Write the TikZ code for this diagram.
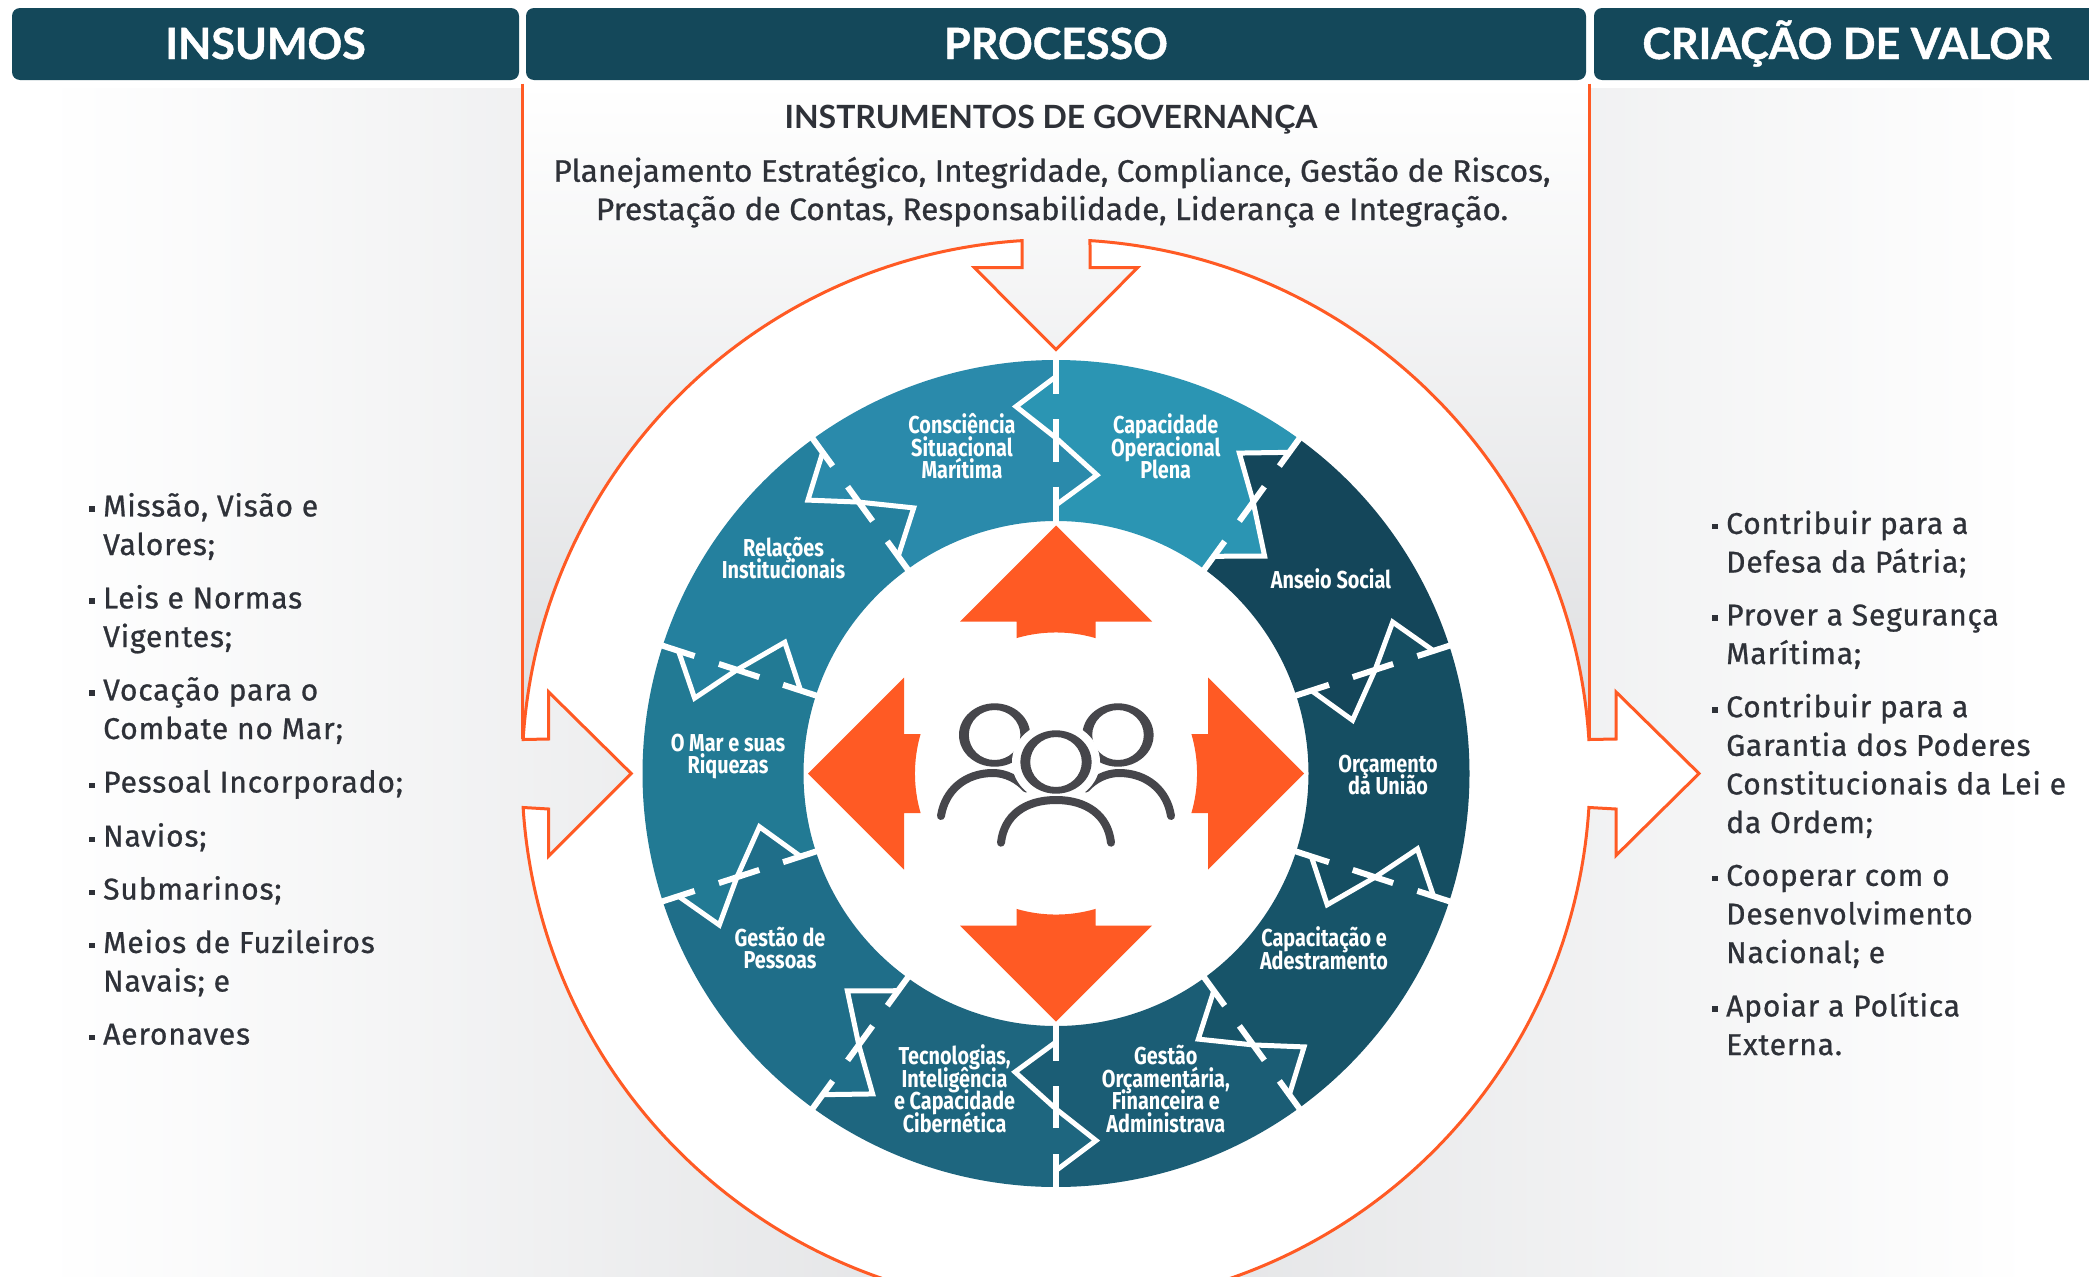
\documentclass[tikz,border=0pt]{standalone}
\usepackage{fontspec}
\setmainfont{Fira Sans}
\newfontfamily\headfont[BoldFeatures={FakeBold=1.0}]{Lato}
\newfontfamily\instrfont{Lato}
\newfontfamily\bodyfont[LetterSpace=2.8,FakeBold=0.8]{Fira Sans}
\newfontfamily\parafont[FakeStretch=1.023,FakeBold=0.8]{Fira Sans}
\newfontfamily\ringfont[FakeStretch=0.81]{Fira Sans}
\definecolor{hdrcol}{HTML}{14485A}
\definecolor{orangecol}{HTML}{FF5A24}
\definecolor{txtcol}{HTML}{2E3138}
\definecolor{iconcol}{HTML}{46464B}
\definecolor{grayA}{HTML}{E0E1E3}
\definecolor{segA}{HTML}{2B95B3}
\definecolor{segB}{HTML}{14465A}
\definecolor{segC}{HTML}{154E62}
\definecolor{segD}{HTML}{175469}
\definecolor{segE}{HTML}{1B5D75}
\definecolor{segF}{HTML}{1E667F}
\definecolor{segG}{HTML}{1F6E89}
\definecolor{segH}{HTML}{227A94}
\definecolor{segI}{HTML}{24809E}
\definecolor{segJ}{HTML}{2A8AAB}
\usetikzlibrary{positioning}
\setlength{\normallineskiplimit}{-30pt}
\setlength{\lineskiplimit}{-30pt}
\tikzset{
  hdrbox/.style={fill=hdrcol,rounded corners=8pt},
  hdrtxt/.style={text=white,font=\headfont\bfseries\fontsize{43}{50}\selectfont,anchor=base},
  listtxt/.style={text=txtcol,align=left,inner sep=0pt,anchor=base west,
    font=\bodyfont\fontsize{30}{38.6}\selectfont},
  ringtxt/.style={text=white,align=center,inner sep=0pt,anchor=base,yshift=-1.5pt,
    font=\ringfont\bfseries\fontsize{24.5}{22.5}\selectfont},
  paratxt/.style={text=txtcol,anchor=base,inner sep=0pt,font=\parafont\fontsize{31}{38}\selectfont},
  orangeline/.style={draw=orangecol,line width=3pt,line join=miter},
  bodyline/.style={draw=iconcol,line width=8pt,line cap=round},
  headring/.style={fill=iconcol,even odd rule}
}
\newcommand{\sqb}{\llap{\rule[4.5pt]{5.5pt}{5.5pt}\hspace{8.5pt}}}
\begin{document}
\begin{tikzpicture}[x=1pt,y=1pt]
  \useasboundingbox (0,0) rectangle (2089,-1277);
  \clip (0,0) rectangle (2089,-1277);
  % background panels
  \fill[white] (0,0) rectangle (2089,-1277);
  \shade[left color=white,right color=grayA] (45,-88) rectangle (1056,-1277);
  \shade[left color=grayA,right color=white] (1056,-88) rectangle (2030,-1277);
  \shade[top color=white,bottom color=grayA] (523,-83) rectangle (1590,-688);
  \fill[grayA] (523,-687) rectangle (548,-740);
  \fill[grayA] (1566,-687) rectangle (1590,-740);
  \begin{scope}[shift={(1056,-773.5)}]
    % named points of the big outline
    \coordinate (vlA) at (-533.3,690);
    \coordinate (vlB) at (-533.3,34.7);
    \coordinate (vrA) at (533.7,690);
    \coordinate (vrB) at (533.7,34.7);
    \draw[orangeline] (vlA) -- (vlB);
    \draw[orangeline] (vrA) -- (vrB);
    \path[fill=white,orangeline] (86.35:534)
      arc[start angle=86.35,delta angle=-82.7,radius=534]
      -- (560,34.5) -- (560,81.6) -- (643,0) -- (560,-82) -- (560,-35.5) -- (-3.65:534)
      arc[start angle=-3.65,delta angle=-172.7,radius=534]
      -- (-507.3,-35.5) -- (-507.3,-82.6) -- (-424.8,0) -- (-507.3,81.5) -- (-507.3,34.5) -- (176.35:534)
      arc[start angle=176.35,delta angle=-82.7,radius=534]
      -- (-34,505.8) -- (-81.6,505.8) -- (0,423.9) -- (81.6,505.8) -- (34,505.8) -- cycle;
    % zigzag points, one set per boundary
    \foreach \i in {0,...,10} {
      \begin{scope}[rotate=-36*\i]
        \coordinate (o\i) at (0,413.5);
        \coordinate (p\i) at (0,397);
        \coordinate (q\i) at (-40,367);
        \coordinate (r\i) at (0,335.5);
        \coordinate (s\i) at (41,298.5);
        \coordinate (t\i) at (0,268.5);
        \coordinate (n\i) at (0,252.5);
      \end{scope}
    }
    % segments of the ring
    \foreach \i/\j/\col in {0/1/segA,1/2/segB,2/3/segC,3/4/segD,4/5/segE,5/6/segF,6/7/segG,7/8/segH,8/9/segI,9/10/segJ} {
      \fill[\col] (o\i) -- (p\i) -- (q\i) -- (r\i) -- (s\i) -- (t\i) -- (n\i)
        arc[start angle={90-36*\i},delta angle=-36,radius=252.5]
        -- (t\j) -- (s\j) -- (r\j) -- (q\j) -- (p\j) -- (o\j)
        arc[start angle={90-36*\j},delta angle=36,radius=413.5] -- cycle;
    }
    % white puzzle lines
    \foreach \i in {0,...,9} {
      \begin{scope}[rotate=-36*\i]
        \draw[white,line width=6pt] (0,415) -- (0,380);
        \draw[white,line width=6pt] (0,354.5) -- (0,312);
        \draw[white,line width=6pt] (0,287) -- (0,251);
      \end{scope}
      \draw[white,line width=5pt,line join=miter] (p\i) -- (q\i) -- (r\i) -- (s\i) -- (t\i);
    }
    % orange arrows round the people
    \foreach \a in {0,90,180,270} {
      \fill[orangecol,rotate=\a] (248,0) -- (152,96) -- (152,39.5) -- (135.4,39.5)
        arc[start angle=16.27,end angle=-16.27,radius=141]
        -- (152,-39.5) -- (152,-96) -- cycle;
    }
    % people icon
    \foreach \cx/\cy in {-61.4/38.5,62/38.5} {
      \fill[headring] (\cx,\cy) ellipse[x radius=35.6,y radius=31.7] (\cx,\cy) ellipse[x radius=25.8,y radius=25];
    }
    \draw[bodyline] (-115,-42.5) .. controls (-111,-17) and (-91,0.5) .. (-63,0.5) .. controls (-50,0.5) and (-38,-6) .. (-30,-15);
    \draw[bodyline] (115,-42.5) .. controls (111,-17) and (91,0.5) .. (63,0.5) .. controls (50,0.5) and (38,-6) .. (30,-15);
    \fill[white] (0,11.5) ellipse[x radius=44,y radius=40];
    \fill[headring] (0,11.5) ellipse[x radius=35.6,y radius=31.7] (0,11.5) ellipse[x radius=25.8,y radius=25];
    \draw[bodyline] (-55,-69.2) .. controls (-52,-42) and (-31,-26.5) .. (0,-26.5) .. controls (31,-26.5) and (52,-42) .. (55,-69.2);
  \end{scope}
  % headers
  \fill[hdrbox] (12,-8) rectangle (519,-80);
  \fill[hdrbox] (526,-8) rectangle (1586,-80);
  \fill[hdrbox] (1594,-8) rectangle (2110,-80);
  \node[hdrtxt] (insumos) at (265.6,-59) {INSUMOS};
  \node[hdrtxt] (processo) at (1056,-59) {PROCESSO};
  \node[hdrtxt] (criacao) at (1847,-59) {CRIAÇÃO DE VALOR};
  % governance text
  \node[text=txtcol,anchor=base,inner sep=0pt,font=\instrfont\bfseries\fontsize{32}{36}\selectfont] (instr) at (1051,-128) {INSTRUMENTOS DE GOVERNANÇA};
  \node[paratxt] (planA) at (1052,-181.7) {Planejamento Estratégico, Integridade, Compliance, Gestão de Riscos,};
  \node[paratxt] (planB) at (1052,-220) {Prestação de Contas, Responsabilidade, Liderança e Integração.};
  % ring labels
  \node[ringtxt] (capac) at (1165.7,-477) {Capacidade\\Operacional\\Plena};
  \node[ringtxt] (consc) at (962,-477) {Consciência\\Situacional\\Marítima};
  \node[ringtxt] (anseio) at (1331,-587) {Anseio Social};
  \node[ringtxt] (relac) at (783.5,-577) {Relações\\Institucionais};
  \node[ringtxt] (omar) at (728,-772.3) {O Mar e suas\\Riquezas};
  \node[ringtxt] (orcam) at (1388,-793.3) {Orçamento\\da União};
  \node[ringtxt] (pessoas) at (780,-967.3) {Gestão de\\Pessoas};
  \node[ringtxt] (adestr) at (1324,-967.7) {Capacitação e\\Adestramento};
  \node[ringtxt] (tecno) at (954.6,-1130.7) {Tecnologias,\\Inteligência\\e Capacidade\\Cibernética};
  \node[ringtxt] (finan) at (1165.8,-1130.7) {Gestão\\Orçamentária,\\Financeira e\\Administrava};
  % left list
  \node[listtxt] (inA) at (103,-555) {\sqb Missão, Visão e\\Valores;};
  \node[listtxt] (inB) at (103,-647) {\sqb Leis e Normas\\Vigentes;};
  \node[listtxt] (inC) at (103,-739) {\sqb Vocação para o\\Combate no Mar;};
  \node[listtxt] (inD) at (103,-792.5) {\sqb Pessoal Incorporado;};
  \node[listtxt] (inE) at (103,-846.5) {\sqb Navios;};
  \node[listtxt] (inF) at (103,-899.5) {\sqb Submarinos;};
  \node[listtxt] (inG) at (103,-991.5) {\sqb Meios de Fuzileiros\\Navais; e};
  \node[listtxt] (inH) at (103,-1044.5) {\sqb Aeronaves};
  % right list
  \node[listtxt] (outA) at (1726,-572.5) {\sqb Contribuir para a\\Defesa da Pátria;};
  \node[listtxt] (outB) at (1726,-664) {\sqb Prover a Segurança\\Marítima;};
  \node[listtxt] (outC) at (1726,-833) {\sqb Contribuir para a\\Garantia dos Poderes\\Constitucionais da Lei e\\da Ordem;};
  \node[listtxt] (outD) at (1726,-963) {\sqb Cooperar com o\\Desenvolvimento\\Nacional; e};
  \node[listtxt] (outE) at (1726,-1055) {\sqb Apoiar a Política\\Externa.};
\end{tikzpicture}
\end{document}
